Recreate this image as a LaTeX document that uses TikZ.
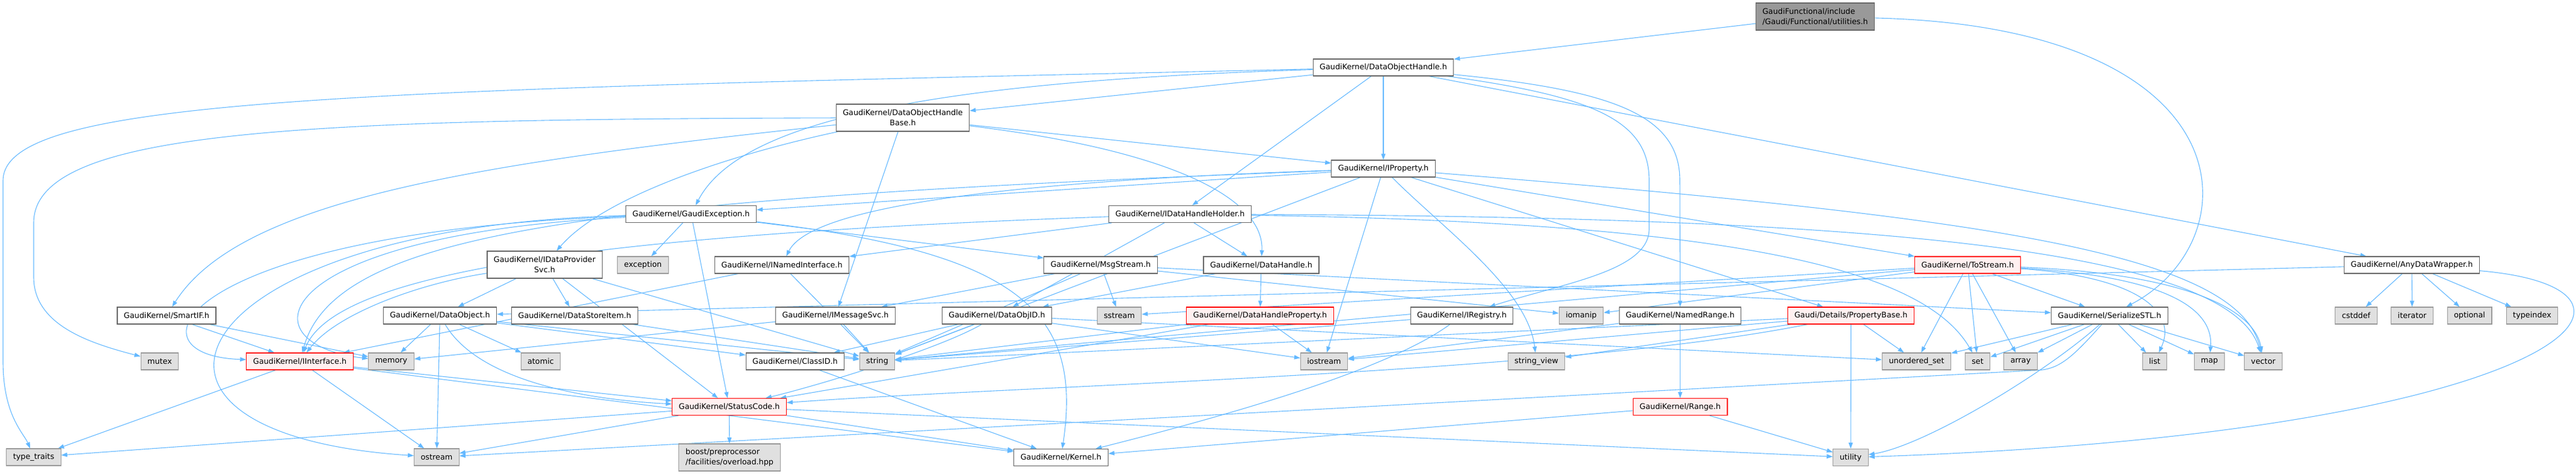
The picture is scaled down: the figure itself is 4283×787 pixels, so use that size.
\documentclass[tikz,border=0pt]{standalone}
\usepackage{fontspec}
\setmainfont{DejaVu Sans}
\usepackage{tikz}
\usetikzlibrary{arrows.meta, backgrounds}
\definecolor{edgeblue}{HTML}{63B8FF}
\definecolor{boxline}{HTML}{666666}
\definecolor{sysfill}{HTML}{E0E0E0}
\definecolor{sysline}{HTML}{999999}
\definecolor{cutfill}{HTML}{FFF0F0}
\definecolor{rootfill}{HTML}{999999}
\tikzset{hdr/.style={draw=boxline, fill=white, line width=1.1pt, inner xsep=11pt, inner ysep=3pt, minimum height=28pt, align=center, font=\fontsize{12.8}{16.7}\selectfont}}
\tikzset{hdr2/.style={hdr, minimum height=45pt}}
\tikzset{sys/.style={hdr, draw=sysline, fill=sysfill}}
\tikzset{cut/.style={hdr, draw=red, fill=cutfill}}
\tikzset{rootbox/.style={hdr2, fill=rootfill, align=left}}
\tikzset{dep/.style={draw=edgeblue, ->, line width=1.1pt}}

\begin{document}
\begin{tikzpicture}[x=1pt, y=-1pt, >={Triangle[length=10pt, width=7pt]}]
                \useasboundingbox (0,0) rectangle (4283,787);
                %
                \node[rootbox] (util) at (3018,27.5) {GaudiFunctional/include\\/Gaudi/Functional/utilities.h};
                \node[hdr] (doh) at (2300,112) {GaudiKernel/DataObjectHandle.h};
                \node[hdr2] (dohb) at (1501,195.5) {GaudiKernel/DataObjectHandle\\Base.h};
                \node[hdr] (iprop) at (2300,280) {GaudiKernel/IProperty.h};
                \node[hdr] (gexc) at (1149,355.5) {GaudiKernel/GaudiException.h};
                \node[hdr] (idhh) at (1962,355.5) {GaudiKernel/IDataHandleHolder.h};
                %
                \node[hdr2] (idps) at (905.5,439.5) {GaudiKernel/IDataProvider\\Svc.h};
                \node[sys] (exc) at (1069,440) {exception};
                \node[hdr] (inamed) at (1300,440) {GaudiKernel/INamedInterface.h};
                \node[hdr] (msgs) at (1830,440) {GaudiKernel/MsgStream.h};
                \node[hdr] (dhandle) at (2097,440) {GaudiKernel/DataHandle.h};
                \node[cut] (tostream) at (3271.5,440) {GaudiKernel/ToStream.h};
                \node[hdr] (adw) at (4010,440) {GaudiKernel/AnyDataWrapper.h};
                %
                \node[hdr] (smartif) at (277,524) {GaudiKernel/SmartIF.h};
                \node[hdr] (dobj) at (731.5,524) {GaudiKernel/DataObject.h};
                \node[hdr] (dsitem) at (955.5,524) {GaudiKernel/DataStoreItem.h};
                \node[hdr] (imsg) at (1389,524) {GaudiKernel/IMessageSvc.h};
                \node[hdr] (dobjid) at (1657.5,524) {GaudiKernel/DataObjID.h};
                \node[sys] (sstream) at (1861,524) {sstream};
                \node[cut] (dhprop) at (2095,524) {GaudiKernel/DataHandleProperty.h};
                \node[hdr] (ireg) at (2430.5,524) {GaudiKernel/IRegistry.h};
                \node[sys] (iomanip) at (2629,524) {iomanip};
                \node[hdr] (nrange) at (2793.5,524) {GaudiKernel/NamedRange.h};
                \node[cut] (propbase) at (3077.5,524) {Gaudi/Details/PropertyBase.h};
                \node[hdr] (sstl) at (3507.5,524) {GaudiKernel/SerializeSTL.h};
                \node[sys] (cstddef) at (3917.5,524) {cstddef};
                \node[sys] (iterator) at (4010.5,524) {iterator};
                \node[sys] (optional) at (4106,524) {optional};
                \node[sys] (typeindex) at (4210,524) {typeindex};
                %
                \node[sys] (mutex) at (265.5,600) {mutex};
                \node[cut] (iintf) at (498.5,600) {GaudiKernel/IInterface.h};
                \node[sys] (memory) at (650.5,600) {memory};
                \node[sys] (atomic) at (899,600) {atomic};
                \node[hdr] (classid) at (1322,600) {GaudiKernel/ClassID.h};
                \node[sys] (string) at (1458.5,600) {string};
                \node[sys] (iostream) at (2201.5,600) {iostream};
                \node[sys] (strview) at (2554.5,600) {string\_view};
                \node[sys] (uset) at (3186.5,600) {unordered\_set};
                \node[sys] (stdset) at (3288,600) {set};
                \node[sys] (array) at (3359.5,600) {array};
                \node[sys] (list) at (3582.5,600) {list};
                \node[sys] (map) at (3673.5,600) {map};
                \node[sys] (vector) at (3763,600) {vector};
                %
                \node[cut] (stcode) at (1212.5,675.5) {GaudiKernel/StatusCode.h};
                \node[cut] (range) at (2793.5,675.5) {GaudiKernel/Range.h};
                \node[sys] (typet) at (56,759) {type\_traits};
                \node[sys] (ostream) at (726,759) {ostream};
                \node[sys, hdr2, draw=sysline, fill=sysfill, align=left] (boost) at (1213,759.5) {boost/preprocessor\\/facilities/overload.hpp};
                \node[hdr] (kernel) at (1764,759.5) {GaudiKernel/Kernel.h};
                \node[sys] (utility) at (3077,759.5) {utility};
                %
                \begin{scope}[on background layer]
                % root
                \draw[dep] (util) to (doh);
                \draw[dep] (util) .. controls (3744,45) and (3744,400) .. (sstl);
                % DataObjectHandle
                \draw[dep] (doh) to (dohb);
                \draw[dep] (doh) .. controls (600,150) and (5,160) .. (5,300) -- (5,600) .. controls (5,690) and (40,720) .. (typet);
                \draw[dep] (doh) .. controls (1550,135) and (1230,200) .. (gexc);
                \draw[dep] (doh) to (idhh);
                \draw[dep] (doh) to (iprop);
                \draw[dep] (doh) .. controls (2650,160) and (2742,200) .. (2742,300) -- (2742,380) .. controls (2742,450) and (2600,470) .. (ireg);
                \draw[dep] (doh) .. controls (2680,150) and (2793,190) .. (2793,300) -- (nrange);
                \draw[dep] (doh) to (adw);
                % DataObjectHandleBase
                \draw[dep] (dohb) .. controls (500,198) and (56,215) .. (56,370) -- (56,460) .. controls (56,540) and (150,570) .. (mutex);
                \draw[dep] (dohb) .. controls (800,270) and (400,330) .. (smartif);
                \draw[dep] (dohb) .. controls (1200,260) and (1000,330) .. (idps);
                \draw[dep] (dohb) to (imsg);
                \draw[dep] (dohb) to (iprop);
                \draw[dep] (dohb) .. controls (1950,250) and (2102,330) .. (dhandle);
                % IProperty
                \draw[dep] (iprop) to (gexc);
                \draw[dep] (iprop) .. controls (1000,330) and (560,380) .. (iintf);
                \draw[dep] (iprop) .. controls (1700,300) and (1350,340) .. (inamed);
                \draw[dep] (iprop) to (string);
                \draw[dep] (iprop) to (iostream);
                \draw[dep] (iprop) .. controls (2400,380) and (2540,480) .. (strview);
                \draw[dep] (iprop) to (tostream);
                \draw[dep] (iprop) to (propbase);
                \draw[dep] (iprop) .. controls (3300,360) and (3720,420) .. (vector);
                % GaudiException
                \draw[dep] (gexc) to (exc);
                \draw[dep] (gexc) .. controls (300,375) and (130,720) .. (ostream);
                \draw[dep] (gexc) .. controls (300,385) and (200,590) .. (iintf);
                \draw[dep] (gexc) .. controls (450,390) and (400,570) .. (memory);
                \draw[dep] (gexc) to (msgs);
                \draw[dep] (gexc) .. controls (1700,420) and (1800,520) .. (kernel);
                \draw[dep] (gexc) to (stcode);
                % IDataHandleHolder
                \draw[dep] (idhh) to (inamed);
                \draw[dep] (idhh) to (dobjid);
                \draw[dep] (idhh) to (dhandle);
                \draw[dep] (idhh) .. controls (1000,390) and (560,450) .. (iintf);
                \draw[dep] (idhh) .. controls (2900,370) and (3200,450) .. (stdset);
                \draw[dep] (idhh) .. controls (3000,360) and (3700,400) .. (vector);
                % IDataProviderSvc
                \draw[dep] (idps) to (dobj);
                \draw[dep] (idps) to (dsitem);
                \draw[dep] (idps) .. controls (700,470) and (560,520) .. (iintf);
                \draw[dep] (idps) to (string);
                \draw[dep] (idps) to (stcode);
                % DataHandle, MsgStream
                \draw[dep] (dhandle) to (dhprop);
                \draw[dep] (dhandle) to (dobjid);
                \draw[dep] (msgs) to (imsg);
                \draw[dep] (msgs) to (sstream);
                \draw[dep] (msgs) to (iomanip);
                \draw[dep] (msgs) to (string);
                \draw[dep] (msgs) to (sstl);
                % ToStream
                \draw[dep] (tostream) to (sstl);
                \draw[dep] (tostream) to (uset);
                \draw[dep] (tostream) to (stdset);
                \draw[dep] (tostream) to (array);
                \draw[dep] (tostream) .. controls (3560,460) and (3620,520) .. (list);
                \draw[dep] (tostream) .. controls (3620,460) and (3680,520) .. (map);
                \draw[dep] (tostream) .. controls (3650,455) and (3750,520) .. (vector);
                \draw[dep] (tostream) to (iomanip);
                \draw[dep] (tostream) to (sstream);
                \draw[dep] (tostream) to (string);
                % AnyDataWrapper
                \draw[dep] (adw) to (dobj);
                \draw[dep] (adw) to (cstddef);
                \draw[dep] (adw) to (iterator);
                \draw[dep] (adw) to (optional);
                \draw[dep] (adw) to (typeindex);
                \draw[dep] (adw) .. controls (4480,480) and (4260,720) .. (utility);
                % SmartIF, DataObject, DataStoreItem
                \draw[dep] (smartif) to (iintf);
                \draw[dep] (smartif) to (memory);
                \draw[dep] (dobj) to (memory);
                \draw[dep] (dobj) to (atomic);
                \draw[dep] (dobj) to (ostream);
                \draw[dep] (dobj) to (classid);
                \draw[dep] (dobj) to (string);
                \draw[dep] (dobj) .. controls (800,640) and (1000,665) .. (stcode);
                \draw[dep] (dsitem) to (string);
                % IMessageSvc, DataObjID
                \draw[dep] (imsg) to (string);
                \draw[dep] (imsg) to (memory);
                \draw[dep] (dobjid) to (classid);
                \draw[dep] (dobjid) to (string);
                \draw[dep] (dobjid) .. controls (1560,580) and (1360,640) .. (stcode);
                \draw[dep] (dobjid) to (iostream);
                \draw[dep] (dobjid) to (uset);
                % DataHandleProperty, IRegistry, NamedRange, Range
                \draw[dep] (dhprop) to (iostream);
                \draw[dep] (dhprop) to (stcode);
                \draw[dep] (dhprop) to (string);
                \draw[dep] (ireg) to (string);
                \draw[dep] (ireg) .. controls (2300,620) and (2000,700) .. (kernel);
                \draw[dep] (nrange) to (iostream);
                \draw[dep] (nrange) to (range);
                \draw[dep] (range) to (kernel);
                \draw[dep] (range) to (utility);
                % PropertyBase
                \draw[dep] (propbase) to (string);
                \draw[dep] (propbase) to (strview);
                \draw[dep] (propbase) to (iostream);
                \draw[dep] (propbase) to (utility);
                \draw[dep] (propbase) to (uset);
                \draw[dep] (propbase) .. controls (2600,620) and (1700,640) .. (stcode);
                % SerializeSTL
                \draw[dep] (sstl) to (uset);
                \draw[dep] (sstl) to (stdset);
                \draw[dep] (sstl) to (array);
                \draw[dep] (sstl) to (list);
                \draw[dep] (sstl) to (map);
                \draw[dep] (sstl) to (vector);
                \draw[dep] (sstl) .. controls (3400,620) and (3200,740) .. (utility);
                \draw[dep] (sstl) .. controls (3440,600) and (3420,615) .. (3380,615) -- (ostream);
                % IInterface, StatusCode, ClassID, INamedInterface
                \draw[dep] (iintf) to (typet);
                \draw[dep] (iintf) to (ostream);
                \draw[dep] (iintf) to (stcode);
                \draw[dep] (iintf) to (kernel);
                \draw[dep] (stcode) to (boost);
                \draw[dep] (stcode) to (kernel);
                \draw[dep] (stcode) to (ostream);
                \draw[dep] (stcode) to (typet);
                \draw[dep] (stcode) to (utility);
                \draw[dep] (classid) to (kernel);
                \draw[dep] (inamed) to (iintf);
                \draw[dep] (inamed) to (string);
                \end{scope}
                %
            \end{tikzpicture}
\end{document}
